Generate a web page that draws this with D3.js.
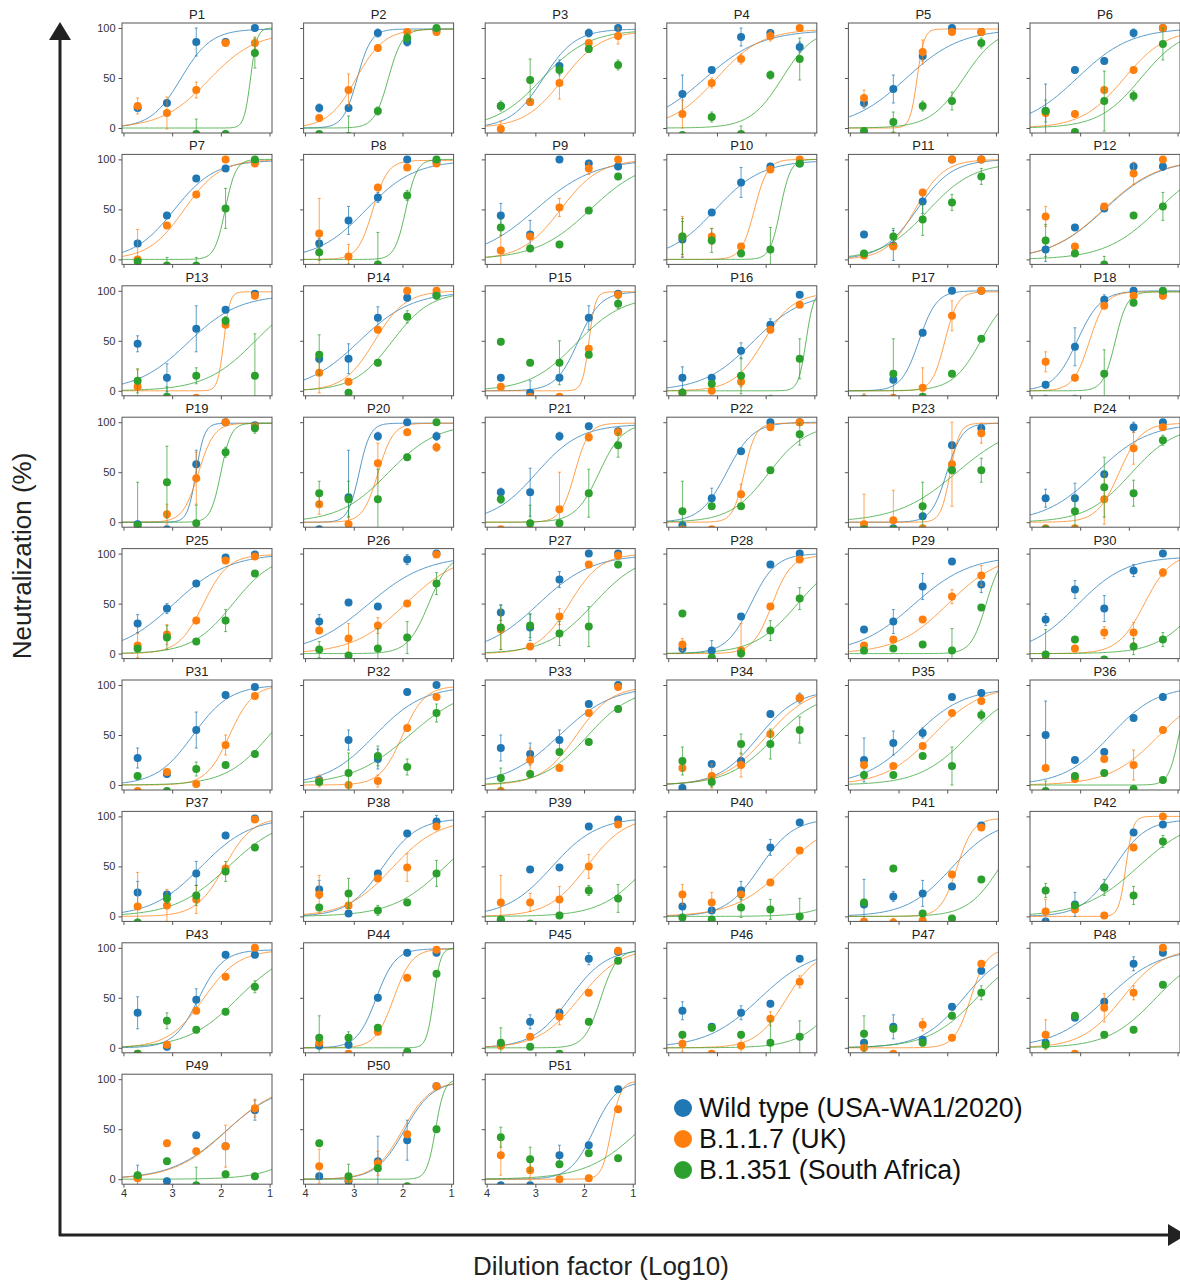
<!DOCTYPE html>
<html>
<head>
<meta charset="utf-8">
<script src="https://cdn.jsdelivr.net/npm/d3@7"></script>
<style>
  body { margin: 0; background: #fff; }
  svg { display: block; font-family: "Liberation Sans", Arial, sans-serif; }
</style>
</head>
<body>
<svg id="chart" width="1180" height="1283"></svg>
<script>
// serum dilutions used (1:5120 ... 1:20), plotted as log10
var dilutions = [5120, 1280, 320, 80, 20];
var xTicks = [4, 3, 2, 1];
var yTicks = [0, 50, 100];
var seriesNames = ["Wild type (USA-WA1/2020)", "B.1.1.7 (UK)", "B.1.351 (South Africa)"];
var seriesColors = ["#1f77b4", "#ff7f0e", "#2ca02c"];

// % neutralization, one row per patient P1..P51
var wtValues = [
  [20,25,86,86,100],[20,20,95,86,98],[22,26,62,95,100],[34,58,91,95,81],[25,39,72,100,96],[17,58,67,95,100],
  [16,44,81,91,98],[16,39,62,100,98],[44,25,100,96,93],[20,47,77,93,96],[25,14,58,100,100],[10,32,51,93,93],
  [47,13,62,81,97],[32,32,73,93,96],[13,-2,13,73,97],[13,13,40,66,96],[-8,11,58,100,100],[6,44,91,100,98],
  [-2,-7,58,100,97],[-7,25,86,100,86],[30,30,86,96,91],[-3,24,71,100,100],[-6,-6,6,77,94],[24,24,48,95,100],
  [30,45,70,96,99],[32,51,47,94,100],[41,26,74,100,100],[5,3,37,89,100],[24,32,67,92,69],[34,64,45,83,100],
  [27,11,55,90,98],[5,45,26,93,100],[37,31,45,81,100],[-3,21,24,71,87],[25,42,52,88,92],[50,25,33,67,88],
  [24,22,43,81,98],[27,3,43,83,95],[-4,47,49,90,97],[10,6,26,69,94],[12,20,23,30,91],[-5,12,29,84,92],
  [35,1,48,93,93],[2,3,50,95,95],[3,26,35,89,96],[37,21,35,44,89],[5,21,8,41,77],[5,30,46,84,95],
  [2,-2,44,33,69],[3,-2,18,39,93],[-6,-6,24,34,90]
];
var wtErrors = [
  [3,3,14,3,0],[4,3,4,4,0],[0,0,6,4,0],[19,3,9,3,5],[5,14,5,0,3],[27,3,3,4,0],
  [3,3,3,3,0],[5,14,5,0,0],[12,14,0,3,3],[18,3,15,3,2],[3,15,12,0,0],[12,3,3,4,4],
  [8,14,23,3,2],[4,15,11,3,2],[3,12,3,12,2],[11,3,8,6,2],[0,3,3,0,0],[3,19,5,0,2],
  [3,0,14,0,2],[0,47,4,0,4],[4,24,4,3,2],[3,10,3,0,0],[0,0,3,3,3],[9,15,3,5,0],
  [9,5,3,3,0],[7,3,3,5,0],[8,13,8,0,0],[4,10,3,3,0],[3,12,13,3,8],[6,9,13,6,0],
  [10,3,18,3,2],[3,10,10,3,0],[13,11,10,3,0],[4,3,3,3,5],[22,12,5,3,3],[34,3,3,3,3],
  [11,3,12,3,2],[9,3,3,3,6],[0,3,3,3,2],[12,3,9,8,3],[25,5,13,3,3],[0,12,3,3,3],
  [16,3,11,3,3],[0,3,3,3,3],[0,7,3,6,3],[9,3,7,3,3],[3,12,3,3,3],[3,0,3,7,3],
  [12,3,3,0,10],[3,0,25,20,0],[0,0,10,3,3]
];
var ukValues = [
  [22,15,38,85,85],[10,38,80,96,96],[-1,26,45,85,92],[14,45,69,92,100],[30,-8,76,96,96],[15,14,38,58,100],
  [0,34,65,100,96],[26,3,72,92,96],[9,23,52,91,100],[23,23,13,90,100],[4,13,67,100,100],[43,13,53,86,100],
  [4,-7,-7,66,95],[18,9,61,100,100],[4,-6,-6,42,96],[-2,0,9,61,86],[-8,-7,3,75,100],[29,13,85,95,95],
  [-6,8,44,100,96],[18,-2,59,90,75],[-7,-7,13,85,90],[-7,-7,28,95,100],[-2,2,-6,58,89],[-6,-6,23,74,95],
  [8,19,33,93,97],[23,15,28,50,99],[24,7,37,89,98],[9,-6,3,47,94],[8,14,34,57,78],[-6,5,21,21,81],
  [-6,13,1,40,89],[4,0,4,57,88],[-6,25,17,72,98],[17,9,20,51,87],[20,19,39,72,84],[17,6,26,20,55],
  [10,11,17,48,97],[22,11,38,49,90],[14,14,17,50,92],[22,14,22,34,66],[-5,-6,-4,42,89],[5,7,1,69,100],
  [-6,3,37,71,100],[5,-6,16,70,98],[2,11,31,55,97],[4,-6,2,29,66],[0,-6,23,10,84],[13,-6,40,55,100],
  [1,36,28,33,71],[13,0,16,45,93],[24,9,0,1,70]
];
var ukErrors = [
  [8,16,8,3,6],[3,16,3,3,3],[8,3,16,3,8],[14,5,5,5,0],[8,0,12,3,3],[3,3,3,3,0],
  [30,3,3,0,2],[35,12,3,3,2],[20,3,9,6,0],[20,8,3,3,0],[3,3,3,0,0],[10,3,3,11,0],
  [17,0,0,3,3],[20,3,3,0,0],[3,0,0,3,2],[0,3,5,3,3],[5,0,20,15,0],[10,3,3,3,3],
  [0,10,26,0,2],[10,8,20,3,4],[0,0,37,4,3],[0,0,10,3,0],[30,30,0,42,10],[0,0,25,16,3],
  [12,10,3,3,2],[3,15,8,3,2],[20,3,8,3,2],[6,0,27,3,3],[3,3,3,7,10],[0,3,6,10,4],
  [3,3,3,10,3],[6,3,6,3,3],[3,12,3,3,2],[3,12,12,3,3],[3,3,3,3,3],[3,3,3,15,3],
  [34,16,14,3,2],[19,3,3,14,3],[27,9,13,12,3],[10,10,3,3,3],[0,4,0,3,3],[12,3,3,3,0],
  [0,0,3,3,0],[3,3,3,3,2],[3,3,8,3,2],[8,0,8,7,6],[3,0,6,3,3],[15,0,14,7,0],
  [3,3,3,21,9],[17,3,12,3,2],[20,10,3,3,3]
];
var saValues = [
  [-10,-10,-6,-6,75],[-6,-8,17,90,100],[22,48,58,79,63],[-7,11,-6,53,69],[-3,6,22,27,85],[17,-4,27,32,84],
  [-2,-6,-6,51,100],[7,-8,-5,64,100],[32,11,15,49,83],[23,19,6,10,96],[6,23,40,57,83],[19,6,-5,44,53],
  [10,-6,15,70,15],[36,-2,28,74,95],[49,28,28,36,87],[-2,7,15,-8,32],[-8,17,-6,17,52],[-8,-8,17,88,100],
  [-3,40,-1,70,94],[29,23,23,65,100],[23,-1,-1,29,77],[11,16,16,52,88],[-7,-7,16,52,52],[-7,11,35,29,82],
  [5,16,12,33,80],[4,-2,5,16,70],[26,28,20,27,89],[40,-4,0,23,55],[3,5,9,3,46],[-1,14,-6,7,14],
  [9,-6,16,20,31],[3,12,29,18,72],[7,11,33,43,76],[24,3,41,41,55],[10,10,29,19,70],[-6,9,12,-4,5],
  [-6,18,21,45,69],[9,23,6,14,43],[-3,-7,1,26,18],[-1,-3,9,7,0],[14,48,3,-2,37],[26,11,29,21,75],
  [-6,27,18,36,61],[10,10,20,-4,74],[5,1,-6,26,87],[13,20,13,5,11],[14,19,5,32,55],[3,32,13,18,63],
  [4,18,-6,5,3],[36,3,11,-7,50],[42,20,15,26,21]
];
var saErrors = [
  [0,0,15,3,15],[3,20,4,5,0],[5,21,5,3,5],[0,5,8,4,21],[3,10,5,9,5],[11,3,30,5,16],
  [3,8,8,20,2],[8,0,32,5,0],[8,3,3,3,3],[18,12,3,22,3],[3,8,16,8,8],[16,3,8,3,14],
  [12,10,8,4,42],[20,3,3,6,3],[3,3,22,3,5],[3,3,18,0,20],[0,35,0,3,3],[0,0,24,3,0],
  [43,36,18,5,5],[12,18,30,3,0],[4,18,3,24,12],[30,3,3,3,11],[0,0,24,3,12],[0,15,30,13,5],
  [3,12,3,11,3],[8,3,20,16,11],[22,12,12,20,3],[3,3,5,10,11],[3,3,3,22,3],[25,3,3,8,7],
  [3,3,7,3,3],[3,20,10,8,9],[10,3,3,3,3],[14,5,10,15,13],[3,3,3,19,5],[10,3,3,3,3],
  [3,5,10,10,3],[3,15,5,3,13],[3,0,3,5,14],[3,3,10,10,18],[3,3,3,3,3],[7,3,8,9,6],
  [0,8,3,3,6],[22,6,3,3,3],[15,3,3,3,3],[3,3,3,22,16],[18,3,3,3,7],[3,3,3,3,3],
  [3,3,18,3,3],[3,12,3,3,3],[10,12,3,3,3]
];

// fitted dose-response curves: [log10 IC50, Hill slope, top %]
var wtFits = [
  [2.82,1.4,99],[2.93,3,99],[2.84,1.3,99],[3.26,0.74,98],[2.85,0.77,99],[3.06,0.79,100],
  [2.96,1.05,99],[2.75,0.87,99],[2.99,0.72,100],[3.04,0.91,99],[2.62,1.2,100],[2.5,0.77,100],
  [2.68,0.83,96],[2.89,0.8,99],[2.12,1.9,99],[2.26,0.85,98],[2.58,2.4,100],[3.06,1.8,100],
  [2.51,5,99],[2.89,3.8,99],[2.98,0.96,98],[2.8,1.6,100],[2.01,2.7,99],[2.67,0.81,99],
  [2.96,0.77,100],[2.71,0.72,98],[2.94,0.79,99],[2.3,1.7,100],[2.69,0.75,98],[3.06,0.87,97],
  [2.57,1.15,100],[2.57,0.87,99],[2.51,0.79,99],[2.16,1.07,95],[2.69,0.84,97],[2.38,0.9,99],
  [2.41,0.85,99],[2.41,1.22,98],[2.66,0.93,99],[2.12,1.25,98],[1.91,0.94,97],[2.31,1.32,97],
  [2.46,1.7,98],[2.54,2.2,99],[2.3,1.15,99],[2.12,0.79,99],[1.66,1.0,100],[2.46,0.8,99],
  [1.9,0.78,96],[1.96,1.5,98],[1.8,1.8,98]
];
var ukFits = [
  [2.25,0.9,96],[2.95,1.5,99],[2.44,1.1,97],[3.01,0.93,99],[2.62,6,99],[2.1,1.0,99],
  [2.75,1.18,100],[2.61,2.8,99],[2.48,1.09,100],[2.23,3.2,100],[2.66,1.46,100],[2.52,0.78,100],
  [1.94,7,99],[2.57,1.37,100],[1.9,6.5,99],[2.05,1.4,98],[2.05,3.3,99],[2.81,2.6,99],
  [2.46,2.7,99],[2.5,2.8,99],[2.19,3.0,99],[2.44,3.7,99],[1.94,4.5,99],[2.2,1.9,99],
  [2.36,1.7,99],[1.93,0.8,100],[2.3,1.35,100],[1.87,2.2,98],[1.98,0.82,100],[1.68,1.6,100],
  [1.82,1.8,100],[2.0,1.9,99],[2.16,1.2,99],[1.98,0.97,98],[2.3,0.87,99],[1.39,0.86,98],
  [1.93,1.5,99],[2.21,0.92,97],[1.94,1.1,100],[1.59,0.82,100],[1.8,2.6,98],[2.06,6,100],
  [2.36,1.2,98],[2.18,2.3,99],[2.09,1.03,100],[1.58,1.4,97],[1.52,2.6,99],[2.13,1.04,100],
  [1.88,0.8,97],[2.0,1.5,98],[1.44,4.5,98]
];
var saFits = [
  [1.39,6.5,100],[2.29,3,99],[2.87,0.9,98],[1.66,1.32,100],[1.66,1.26,100],[1.75,1.0,100],
  [1.91,4,100],[1.93,3.8,100],[1.87,0.78,100],[1.7,4.1,100],[2.4,0.92,97],[1.4,0.8,100],
  [1.29,0.84,100],[2.21,1.1,99],[2.16,0.9,95],[1.17,5.5,100],[1.31,1.5,100],[2.28,3.5,99],
  [2.0,4.1,99],[2.29,0.86,99],[1.69,1.8,99],[1.94,1.1,98],[1.8,0.7,100],[1.96,0.95,97],
  [1.75,1.03,100],[1.46,2.0,100],[1.8,0.9,100],[1.34,0.97,100],[1.2,2.8,100],[0.53,1.0,100],
  [1.0,0.96,100],[1.85,0.72,100],[1.94,0.95,97],[1.84,0.91,93],[1.55,0.85,100],[0.97,4,100],
  [1.84,0.78,100],[1.12,0.8,100],[0.7,0.91,100],[-0.1,1.08,100],[0.91,1.29,100],[1.8,0.75,100],
  [1.64,0.83,100],[1.36,6,100],[1.66,2.6,98],[0.45,1.07,100],[1.39,0.87,100],[1.46,0.89,98],
  [-0.08,0.93,100],[1.32,4.8,100],[0.84,0.78,100]
];

var values = [wtValues, ukValues, saValues];
var errors = [wtErrors, ukErrors, saErrors];
var fits = [wtFits, ukFits, saFits];

var svg = d3.select("#chart");

// panel geometry
var W = 150, H = 110;
var left0 = 122, top0 = 23, colStep = 181.6, rowStep = 131.4;
var nCols = 6, nRows = 9;

var x = d3.scaleLinear().domain([4.03, 0.95]).range([0, W]);
var y = d3.scaleLinear().domain([-5, 105]).range([H, 0]);

svg.append("defs").append("clipPath").attr("id", "plotclip")
  .append("rect").attr("width", W).attr("height", H);

var logDil = dilutions.map(function(d) { return Math.log10(d) });
var curveX = d3.range(0, 121).map(function(k) { return 4.03 - k * 3.08 / 120 });

function hill(p, lx) {
  return p[2] / (1 + Math.pow(10, (lx - p[0]) * p[1]));
}

var line = d3.line()
  .x(function(d) { return x(d[0]) })
  .y(function(d) { return y(d[1]) });

for (var i = 0; i < wtValues.length; i++) {
  var col = i % nCols, row = Math.floor(i / nCols);
  var g = svg.append("g")
    .attr("transform", "translate(" + (left0 + col * colStep) + "," + (top0 + row * rowStep) + ")");

  // title
  g.append("text")
    .attr("x", W / 2).attr("y", -4)
    .attr("text-anchor", "middle")
    .attr("font-size", 13).attr("fill", "#222")
    .text("P" + (i + 1));

  // axes
  var xAxis = d3.axisBottom(x).tickValues(xTicks).tickSize(3.5).tickPadding(2)
    .tickFormat(row === nRows - 1 ? d3.format("d") : function() { return "" });
  var yAxis = d3.axisLeft(y).tickValues(yTicks).tickSize(3.5).tickPadding(3)
    .tickFormat(col === 0 ? d3.format("d") : function() { return "" });

  var xg = g.append("g").attr("transform", "translate(0," + H + ")").call(xAxis);
  var yg = g.append("g").call(yAxis);
  [xg, yg].forEach(function(a) {
    a.select(".domain").remove();
    a.selectAll(".tick line").attr("stroke", "#555");
    a.selectAll(".tick text").attr("fill", "#333").attr("font-size", 11)
      .attr("font-family", "Liberation Sans, Arial, sans-serif");
  });

  var plot = g.append("g").attr("clip-path", "url(#plotclip)");

  // fitted curves
  for (var s = 0; s < 3; s++) {
    var p = fits[s][i];
    plot.append("path")
      .datum(curveX.map(function(lx) { return [lx, hill(p, lx)] }))
      .attr("d", line)
      .attr("fill", "none")
      .attr("stroke", seriesColors[s])
      .attr("stroke-opacity", 0.75)
      .attr("stroke-width", 1);
  }

  // error bars + points
  for (var s = 0; s < 3; s++) {
    var pts = values[s][i].map(function(v, k) { return { lx: logDil[k], v: v, e: errors[s][i][k] } });
    var eb = plot.append("g")
      .attr("stroke", seriesColors[s])
      .attr("stroke-opacity", 0.7)
      .attr("stroke-width", 1);
    pts.filter(function(d) { return d.e > 0 }).forEach(function(d) {
      var cx = x(d.lx), y1 = y(d.v - d.e), y2 = y(d.v + d.e);
      eb.append("line").attr("x1", cx).attr("x2", cx).attr("y1", y1).attr("y2", y2);
      eb.append("line").attr("x1", cx - 1.5).attr("x2", cx + 1.5).attr("y1", y1).attr("y2", y1);
      eb.append("line").attr("x1", cx - 1.5).attr("x2", cx + 1.5).attr("y1", y2).attr("y2", y2);
    });
    plot.append("g").selectAll("circle")
      .data(pts)
      .enter()
      .append("circle")
      .attr("cx", function(d) { return x(d.lx) })
      .attr("cy", function(d) { return y(d.v) })
      .attr("r", 4)
      .attr("fill", seriesColors[s]);
  }

  // frame
  g.append("rect")
    .attr("width", W).attr("height", H)
    .attr("fill", "none")
    .attr("stroke", "#555")
    .attr("stroke-width", 1);
}

// big axis arrows
var ink = "#222";
svg.append("line").attr("x1", 60).attr("x2", 60).attr("y1", 1236).attr("y2", 38)
  .attr("stroke", ink).attr("stroke-width", 3);
svg.append("path").attr("d", "M60,22 L49,40 L71,40 Z").attr("fill", ink);
svg.append("line").attr("x1", 59).attr("x2", 1168).attr("y1", 1235).attr("y2", 1235)
  .attr("stroke", ink).attr("stroke-width", 3);
svg.append("path").attr("d", "M1186,1235 L1168,1224 L1168,1246 Z").attr("fill", ink);

svg.append("text")
  .attr("transform", "translate(31,556) rotate(-90)")
  .attr("text-anchor", "middle")
  .attr("font-size", 26).attr("fill", ink)
  .text("Neutralization (%)");

svg.append("text")
  .attr("x", 601).attr("y", 1275)
  .attr("text-anchor", "middle")
  .attr("font-size", 26).attr("fill", ink)
  .text("Dilution factor (Log10)");

// legend
var legend = svg.append("g").selectAll("g")
  .data(seriesNames)
  .enter()
  .append("g")
  .attr("transform", function(d, k) { return "translate(683," + (1108 + k * 31) + ")" });
legend.append("circle").attr("r", 9).attr("fill", function(d, k) { return seriesColors[k] });
legend.append("text")
  .attr("x", 16).attr("y", 9)
  .attr("font-size", 26.8).attr("fill", "#111")
  .text(function(d) { return d });
</script>
</body>
</html>
